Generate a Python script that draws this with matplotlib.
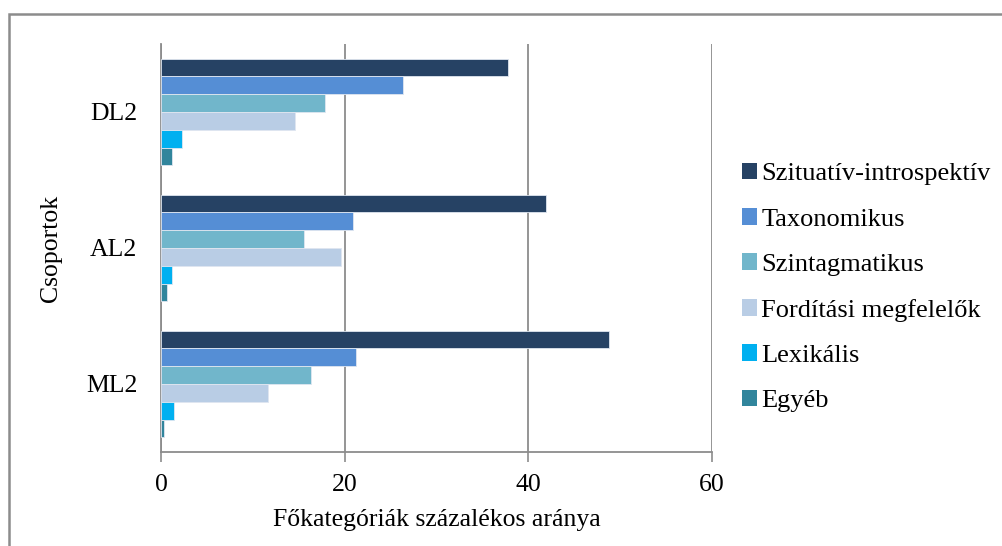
import matplotlib
matplotlib.use("Agg")
import matplotlib.pyplot as plt
from matplotlib.patches import Rectangle
import numpy as np

plt.rcParams['font.family'] = ['Liberation Serif', 'DejaVu Serif']

groups = ["DL2", "AL2", "ML2"]
series = ["Szituatív-introspektív", "Taxonomikus", "Szintagmatikus",
          "Fordítási megfelelők", "Lexikális", "Egyéb"]
colors = ["#264264", "#558ED5", "#71B6CB", "#B9CDE5", "#00B0F0", "#31859C"]

# values per series, in the order DL2, AL2, ML2
szituativ = [37.8, 41.9, 48.8]
taxonomikus = [26.3, 20.9, 21.2]
szintagmatikus = [17.9, 15.6, 16.3]
forditasi = [14.6, 19.6, 11.7]
lexikalis = [2.3, 1.2, 1.4]
egyeb = [1.2, 0.6, 0.3]
values = [szituativ, taxonomikus, szintagmatikus, forditasi, lexikalis, egyeb]

xticks = [0, 20, 40, 60]

fig = plt.figure(figsize=(10.03, 5.46), dpi=100)
ax = fig.add_axes([161/1003, 1 - 452/546, (712 - 161)/1003, (452 - 44)/546])

n = len(series)
bar_h = 0.131
centers = np.arange(len(groups))  # 0 = top group after inverting
for i, (name, vals, col) in enumerate(zip(series, values, colors)):
    offs = (i - (n - 1) / 2) * bar_h
    ax.barh(centers + offs, vals, height=bar_h, color=col, label=name,
            edgecolor="#dfe6f0", linewidth=0.6, zorder=3)

ax.set_ylim(len(groups) - 0.5, -0.5)
ax.set_xlim(0, 60)
ax.set_yticks(centers)
ax.set_yticklabels(groups, fontsize=18.5)
ax.tick_params(axis="y", length=0, pad=17)
ax.set_xticks(xticks)
ax.set_xticklabels([str(t) for t in xticks], fontsize=18.5)
ax.tick_params(axis="x", length=7, width=1.2, color="#8c8c8c", pad=8.5)

ax.grid(axis="x", color="#8c8c8c", linewidth=1.3, zorder=0)
for side in ["top", "right"]:
    ax.spines[side].set_visible(False)
for side in ["left", "bottom"]:
    ax.spines[side].set_color("#8c8c8c")
    ax.spines[side].set_linewidth(1.3)

ax.set_xlabel("Főkategóriák százalékos aránya", fontsize=18.5, labelpad=10)
ax.set_ylabel("Csoportok", fontsize=18.5)
ax.yaxis.set_label_coords((62 - 161) / 551, 0.5)

handles, labels = ax.get_legend_handles_labels()
leg = fig.legend(handles, labels, loc="upper left",
                 bbox_to_anchor=(731/1003, 1 - 152/546), frameon=False,
                 fontsize=19, handlelength=0.6, handleheight=0.6,
                 handletextpad=0.15, labelspacing=0.86, borderaxespad=0)
for h in leg.legend_handles:
    h.set_edgecolor("none")

# outer chart frame
fig.patches.append(Rectangle((9/1003, -0.2), 1.2, 1 - 14/546 + 0.2,
                             transform=fig.transFigure, fill=False,
                             edgecolor="#8c8c8c", linewidth=1.8))

fig.savefig("out.png", dpi=100, facecolor="white")
